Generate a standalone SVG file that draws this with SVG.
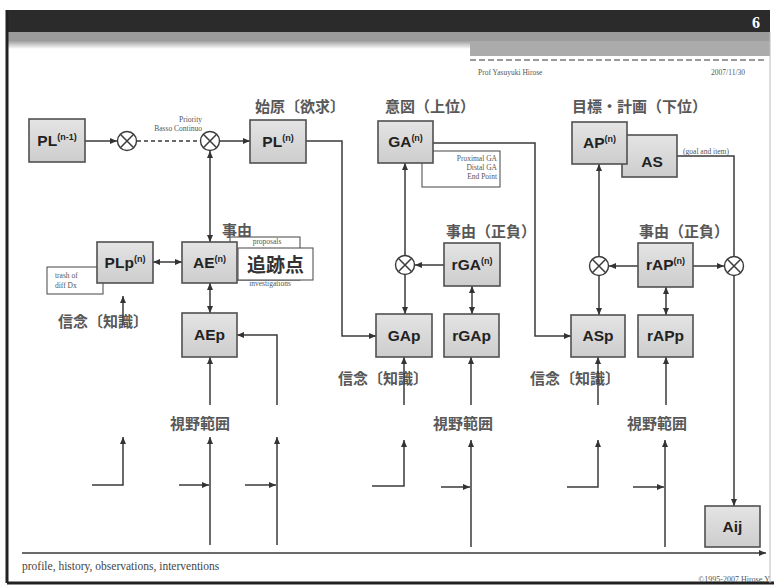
<svg xmlns="http://www.w3.org/2000/svg" width="774" height="586" viewBox="0 0 774 586">
<defs>
<linearGradient id="bg" x1="0" y1="0" x2="0" y2="1"><stop offset="0" stop-color="#e4e4e4"/><stop offset="1" stop-color="#cdcdcd"/></linearGradient>
<linearGradient id="fade" x1="0" y1="0" x2="0" y2="1"><stop offset="0" stop-color="#a0a0a0"/><stop offset="1" stop-color="#ffffff"/></linearGradient>
<marker id="a" markerWidth="7" markerHeight="6" refX="7" refY="3" orient="auto-start-reverse" markerUnits="userSpaceOnUse"><path d="M0,0 L7,3 L0,6 z" fill="#333"/></marker>
<style>
.box{fill:url(#bg);stroke:#505050;stroke-width:1.6}
.tb{fill:#fff;stroke:#555;stroke-width:1.1}
.ln{fill:none;stroke:#3a3a3a;stroke-width:1.5}
.nt{font-family:"Liberation Sans",Arial,sans-serif;font-weight:bold;font-size:15.5px;fill:#222;text-anchor:middle}
.sup{font-size:9px}
.jp{font-family:"Noto Sans CJK JP",sans-serif;fill:#585858;font-size:15px;font-weight:bold}
.sm{font-family:"Liberation Serif",serif;font-size:7.5px;fill:#555}
.cir{fill:#fff;stroke:#3a3a3a;stroke-width:1.4}
</style>
</defs>
<rect width="774" height="586" fill="#fff"/>
<!-- header -->
<g id="header">
<rect x="8" y="10" width="762" height="22" fill="#2b2b2b"/>
<rect x="8" y="32" width="762" height="9" fill="#9b9b9b"/>
<rect x="8" y="41" width="462" height="8" fill="url(#fade)"/>
<rect x="470" y="41" width="300" height="15" fill="#ababab"/>
<line x1="470" y1="60" x2="765" y2="60" stroke="#9a9a9a" stroke-width="2" stroke-dasharray="6 3"/>
<text x="752" y="28" font-family="Liberation Serif,serif" font-size="16" fill="#fff" font-weight="bold">6</text>
<text x="478" y="75" class="sm" fill="#888" font-size="7">Prof Yasuyuki Hirose</text>
<text x="745" y="75" class="sm" font-size="7" text-anchor="end">2007/11/30</text>
</g>
<!-- frame -->
<line x1="7" y1="10" x2="7" y2="583" stroke="#222" stroke-width="3"/>
<line x1="7" y1="583" x2="774" y2="583" stroke="#222" stroke-width="3"/>
<line x1="770" y1="32" x2="770" y2="583" stroke="#bbb" stroke-width="1"/>

<!-- labels -->
<g id="labels">
<text class="jp" x="255" y="112">始原〔欲求〕</text>
<text class="jp" x="385" y="112" font-size="16">意図（上位）</text>
<text class="jp" x="572" y="112" font-size="15.5">目標・計画（下位）</text>
<text class="jp" x="222" y="236" font-size="16">事由</text>
<text class="jp" x="446" y="237">事由（正負）</text>
<text class="jp" x="639" y="237">事由（正負）</text>
<text class="jp" x="58" y="327" font-size="16">信念〔知識〕</text>
<text class="jp" x="338" y="384" font-size="16">信念〔知識〕</text>
<text class="jp" x="530" y="384" font-size="16">信念〔知識〕</text>
<text class="jp" x="170" y="429" font-size="18">視野範囲</text>
<text class="jp" x="433" y="429" font-size="18">視野範囲</text>
<text class="jp" x="627" y="429" font-size="18">視野範囲</text>
<text class="sm" x="202" y="122" text-anchor="end" font-size="6.5">Priority</text>
<text class="sm" x="202" y="131" text-anchor="end" font-size="6.5">Basso Continuo</text>
<text x="22" y="570" font-family="Liberation Serif,serif" font-size="11.5" fill="#444">profile, history, observations, interventions</text>
<text x="770" y="582" font-family="Liberation Serif,serif" font-size="8" fill="#555" text-anchor="end">©1995-2007 Hirose,Y</text>
</g>

<!-- connectors -->
<g id="connectors" class="ln">
<line x1="85" y1="141" x2="117" y2="141" marker-end="url(#a)"/>
<line x1="137" y1="141" x2="200" y2="141" stroke-dasharray="4 3"/>
<line x1="220" y1="141" x2="250" y2="141" marker-end="url(#a)"/>
<line x1="210" y1="242" x2="210" y2="151" marker-start="url(#a)" marker-end="url(#a)"/>
<path d="M306,141 H342 V336 H376" marker-end="url(#a)"/>
<path d="M433,143 H535 V336 H571" marker-end="url(#a)"/>
<line x1="405" y1="255" x2="405" y2="163" marker-end="url(#a)"/>
<line x1="405" y1="275" x2="405" y2="314" marker-end="url(#a)"/>
<line x1="444" y1="265" x2="415" y2="265" marker-end="url(#a)"/>
<line x1="472" y1="286" x2="472" y2="314" marker-start="url(#a)" marker-end="url(#a)"/>
<line x1="599" y1="256" x2="599" y2="164" marker-end="url(#a)"/>
<line x1="599" y1="276" x2="599" y2="315" marker-end="url(#a)"/>
<line x1="638" y1="266" x2="609" y2="266" marker-end="url(#a)"/>
<line x1="693" y1="266" x2="724" y2="266" marker-end="url(#a)"/>
<line x1="666" y1="287" x2="666" y2="315" marker-start="url(#a)" marker-end="url(#a)"/>
<path d="M677,156 H734 V256"/>
<line x1="734" y1="276" x2="734" y2="506" marker-end="url(#a)"/>
<line x1="153" y1="262" x2="182" y2="262" marker-start="url(#a)" marker-end="url(#a)"/>
<line x1="210" y1="283" x2="210" y2="313" marker-start="url(#a)" marker-end="url(#a)"/>
<line x1="210" y1="405" x2="210" y2="357" marker-end="url(#a)"/>
<path d="M277,405 V335 H237" marker-end="url(#a)"/>
<line x1="123" y1="325" x2="123" y2="296" marker-end="url(#a)"/>
<line x1="404" y1="405" x2="404" y2="357" marker-end="url(#a)"/>
<line x1="471" y1="405" x2="471" y2="357" marker-end="url(#a)"/>
<line x1="598" y1="405" x2="598" y2="357" marker-end="url(#a)"/>
<line x1="666" y1="405" x2="666" y2="357" marker-end="url(#a)"/>
<path d="M92,485 H123 V437" marker-end="url(#a)"/>
<line x1="210" y1="545" x2="210" y2="437" marker-end="url(#a)"/>
<line x1="179" y1="485" x2="209" y2="485" marker-end="url(#a)"/>
<line x1="277" y1="545" x2="277" y2="437" marker-end="url(#a)"/>
<line x1="245" y1="485" x2="276" y2="485" marker-end="url(#a)"/>
<path d="M372,486 H404 V440" marker-end="url(#a)"/>
<line x1="471" y1="547" x2="471" y2="440" marker-end="url(#a)"/>
<line x1="441" y1="487" x2="470" y2="487" marker-end="url(#a)"/>
<path d="M567,487 H598 V440" marker-end="url(#a)"/>
<line x1="665" y1="547" x2="665" y2="440" marker-end="url(#a)"/>
<line x1="633" y1="487" x2="664" y2="487" marker-end="url(#a)"/>
<line x1="22" y1="553" x2="766" y2="553" marker-end="url(#a)"/>
</g>

<!-- summing junctions -->
<g id="sum1"><circle class="cir" cx="127" cy="141" r="9.5"/><path d="M120.3,134.3 L133.7,147.7 M133.7,134.3 L120.3,147.7" class="ln" stroke-width="1.2"/></g>
<g id="sum2"><circle class="cir" cx="210" cy="141" r="9.5"/><path d="M203.3,134.3 L216.7,147.7 M216.7,134.3 L203.3,147.7" class="ln" stroke-width="1.2"/></g>
<g id="sum3"><circle class="cir" cx="405" cy="265" r="9.5"/><path d="M398.3,258.3 L411.7,271.7 M411.7,258.3 L398.3,271.7" class="ln" stroke-width="1.2"/></g>
<g id="sum4"><circle class="cir" cx="599" cy="266" r="9.5"/><path d="M592.3,259.3 L605.7,272.7 M605.7,259.3 L592.3,272.7" class="ln" stroke-width="1.2"/></g>
<g id="sum5"><circle class="cir" cx="734" cy="266" r="9.5"/><path d="M727.3,259.3 L740.7,272.7 M740.7,259.3 L727.3,272.7" class="ln" stroke-width="1.2"/></g>

<!-- nodes -->
<g id="PLn1"><rect class="box" x="29" y="119" width="56" height="43"/><text class="nt" x="57" y="146">PL<tspan class="sup" dy="-6">(n-1)</tspan></text></g>
<g id="PLn"><rect class="box" x="250" y="120" width="56" height="43"/><text class="nt" x="278" y="147">PL<tspan class="sup" dy="-6">(n)</tspan></text></g>
<g id="GAtext"><rect class="tb" x="422" y="151" width="78" height="36"/>
<text class="sm" x="497" y="161" text-anchor="end">Proximal GA</text>
<text class="sm" x="497" y="170" text-anchor="end">Distal GA</text>
<text class="sm" x="497" y="179" text-anchor="end">End Point</text></g>
<g id="GAn"><rect class="box" x="378" y="121" width="55" height="42"/><text class="nt" x="405.5" y="147">GA<tspan class="sup" dy="-6">(n)</tspan></text></g>
<g id="AS"><rect class="box" x="622" y="135" width="55" height="42"/><text class="nt" x="652" y="167" font-size="17">AS</text>
<text class="sm" x="706" y="154" text-anchor="middle" font-size="5">(goal and item)</text></g>
<g id="APn"><rect class="box" x="572" y="122" width="55" height="42"/><text class="nt" x="599.5" y="148">AP<tspan class="sup" dy="-6">(n)</tspan></text></g>
<g id="trash"><rect class="tb" x="47" y="267" width="56" height="27"/>
<text class="sm" x="55" y="278" font-size="8">trash of</text>
<text class="sm" x="55" y="288" font-size="8">diff Dx</text></g>
<g id="PLpn"><rect class="box" x="97" y="242" width="56" height="41"/><text class="nt" x="125" y="268">PLp<tspan class="sup" dy="-6">(n)</tspan></text></g>
<g id="AEback"><rect class="tb" x="230" y="237" width="70" height="43"/>
<text class="sm" x="267" y="244" text-anchor="middle" font-size="6">proposals</text>
<text class="sm" x="270" y="286" text-anchor="middle" font-size="6">investigations</text></g>
<g id="AEn"><rect class="box" x="182" y="242" width="55" height="41"/><text class="nt" x="209.5" y="268">AE<tspan class="sup" dy="-6">(n)</tspan></text></g>
<g id="tsuiseki"><rect class="tb" x="238" y="248" width="75" height="32"/><text x="275.5" y="272" font-family="Noto Sans CJK JP,sans-serif" font-weight="bold" font-size="19" fill="#333" text-anchor="middle">追跡点</text></g>
<g id="AEp"><rect class="box" x="182" y="313" width="55" height="44"/><text class="nt" x="209.5" y="340">AEp</text></g>
<g id="rGAn"><rect class="box" x="444" y="243" width="56" height="43"/><text class="nt" x="472" y="270">rGA<tspan class="sup" dy="-6">(n)</tspan></text></g>
<g id="GAp"><rect class="box" x="376" y="314" width="56" height="43"/><text class="nt" x="404" y="341">GAp</text></g>
<g id="rGAp"><rect class="box" x="444" y="314" width="55" height="43"/><text class="nt" x="471.5" y="341">rGAp</text></g>
<g id="ASp"><rect class="box" x="571" y="315" width="54" height="42"/><text class="nt" x="598" y="341">ASp</text></g>
<g id="rAPn"><rect class="box" x="638" y="243" width="55" height="44"/><text class="nt" x="665.5" y="270">rAP<tspan class="sup" dy="-6">(n)</tspan></text></g>
<g id="rAPp"><rect class="box" x="638" y="315" width="55" height="42"/><text class="nt" x="665.5" y="341">rAPp</text></g>
<g id="Aij"><rect class="box" x="705" y="506" width="55" height="41"/><text class="nt" x="732.5" y="532">Aij</text></g>
</svg>
